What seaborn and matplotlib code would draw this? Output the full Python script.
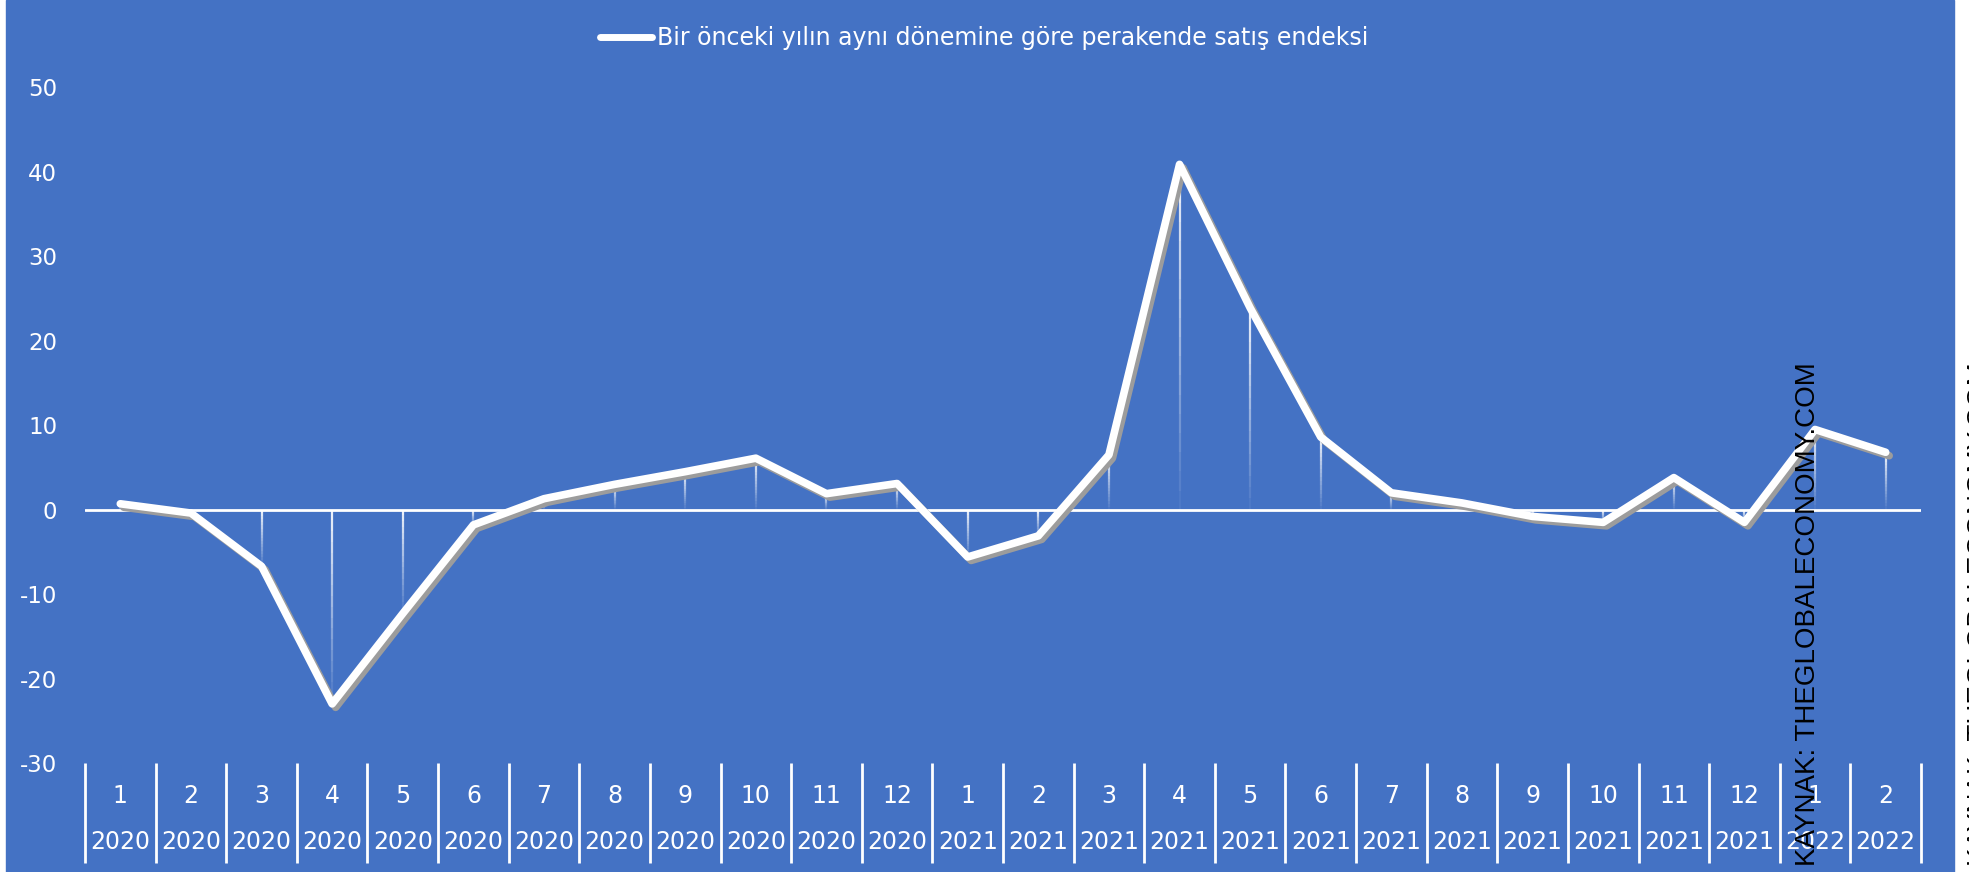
import numpy as np
import pandas as pd
import matplotlib
matplotlib.use("Agg")
import matplotlib.pyplot as plt
import matplotlib.patheffects as pe
import seaborn as sns

# data
months = ["1", "2", "3", "4", "5", "6", "7", "8", "9", "10", "11", "12",
          "1", "2", "3", "4", "5", "6", "7", "8", "9", "10", "11", "12",
          "1", "2"]
years = ["2020"] * 12 + ["2021"] * 12 + ["2022"] * 2
values = [0.7, -0.4, -6.7, -23.0, -12.3, -1.8, 1.3, 3.0, 4.5, 6.1, 1.9, 3.1,
          -5.6, -3.1, 6.5, 40.9, 23.9, 8.6, 2.0, 0.8, -0.8, -1.5, 3.8, -1.5,
          9.5, 6.8]
yticks = [-30, -20, -10, 0, 10, 20, 30, 40, 50]
series_label = "Bir önceki yılın aynı dönemine göre perakende satış endeksi"
source_text = "KAYNAK: THEGLOBALECONOMY.COM"

df = pd.DataFrame({"month": months, "year": years, "value": values})
df["pos"] = np.arange(len(df))

sns.set_theme(style="white")
plt.rcParams["font.family"] = ["DejaVu Sans"]

BLUE = "#4472C4"
W, H = 1969, 872
fig = plt.figure(figsize=(W / 100, H / 100), dpi=100, facecolor="white")
fig.patches.append(plt.Rectangle((6 / W, 0), (1954 - 6) / W, 1, transform=fig.transFigure,
                                 color=BLUE, zorder=-5))
ax = fig.add_axes([85 / W, 1 - 763 / H, (1921 - 85) / W, (763 - 87.5) / H])
ax.set_facecolor(BLUE)
ax.set_zorder(1)
for s in ax.spines.values():
    s.set_visible(False)

# drop lines, fading from top to bottom
nseg = 18
for x, v in zip(df["pos"], df["value"]):
    edges = np.linspace(max(v, 0), min(v, 0), nseg + 1)
    for i in range(nseg):
        ax.vlines(x, edges[i + 1], edges[i], color="white", lw=1.6,
                  alpha=0.9 * (1 - i / nseg), zorder=2)

ax.axhline(0, color="white", lw=2, zorder=3)

sns.lineplot(data=df, x="pos", y="value", ax=ax, color="white", lw=5.5, zorder=4,
             label=series_label, solid_capstyle="round", solid_joinstyle="round",
             path_effects=[pe.SimpleLineShadow(offset=(2.5, -2.5), shadow_color="#9c9c9c", alpha=1),
                           pe.Normal()])

ax.set_xlim(-0.5, len(df) - 0.5)
ax.set_ylim(-30, 50)
ax.set_yticks(yticks)
ax.set_yticklabels([str(t) for t in yticks], color="white", fontsize=16.5)
ax.tick_params(axis="y", length=0, pad=20)
ax.set_xticks([])
ax.set_xlabel("")
ax.set_ylabel("")

# two-level category axis at the bottom
for x, m, y in zip(df["pos"], df["month"], df["year"]):
    ax.text(x, -33.9, m, ha="center", va="center", color="white", fontsize=17, clip_on=False)
    ax.text(x, -39.3, y, ha="center", va="center", color="white", fontsize=17, clip_on=False)
for k in range(len(df) + 1):
    ax.vlines(k - 0.5, -41.8, -30, color="white", lw=2, clip_on=False)

leg = ax.legend(loc="center", bbox_to_anchor=(0.5, 1 - 38 / H), bbox_transform=fig.transFigure,
                frameon=False, fontsize=17, handlelength=2.2, handletextpad=0.2)
for t in leg.get_texts():
    t.set_color("white")
for h in leg.get_lines():
    h.set_linewidth(5)
    h.set_path_effects([])

ax.text(1808 / W, 6 / H, source_text, rotation=90, ha="center", va="bottom",
        color="black", fontsize=20, family="Liberation Sans",
        transform=fig.transFigure, zorder=10, clip_on=False)
fig.text(1967 / W, 6 / H, source_text, rotation=90, ha="left", va="bottom",
         color="black", fontsize=20, family="Liberation Sans")

fig.savefig("out.png", dpi=100, facecolor=fig.get_facecolor())
